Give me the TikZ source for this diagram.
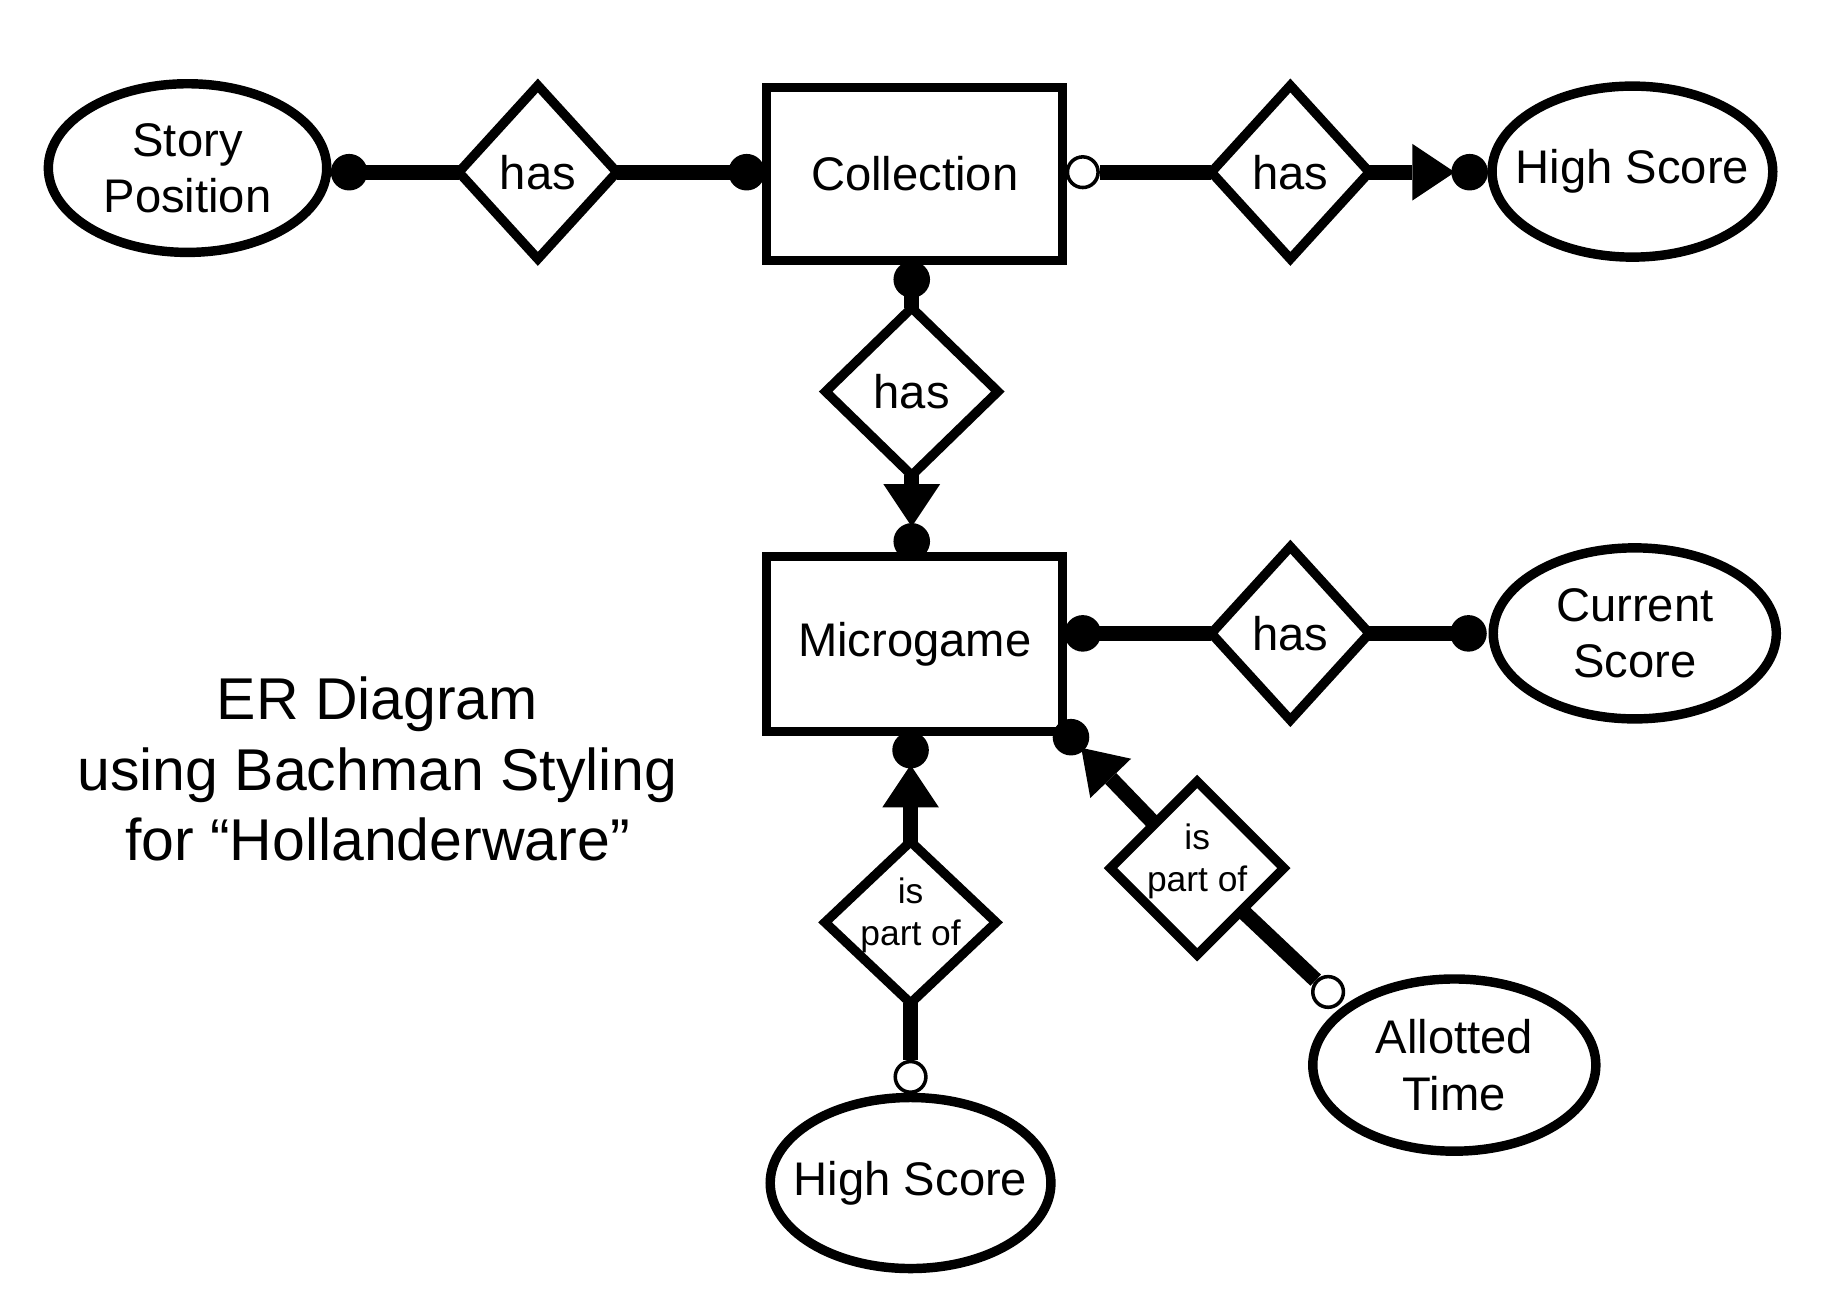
\documentclass[tikz,border=0pt]{standalone}
\usepackage{fontspec}
\setmainfont{Liberation Sans}
\usetikzlibrary{shapes.geometric,arrows.meta}
\begin{document}
\begin{tikzpicture}[x=1pt,y=-1pt,
  lbl/.style={font=\fontsize{40}{48}\selectfont, align=center},
  ent/.style={draw, line width=8pt, rectangle, minimum width=251pt, minimum height=147pt, inner sep=0pt, lbl},
  attr/.style={draw, line width=8pt, ellipse, inner xsep=-22pt, inner ysep=-12pt, minimum width=238pt, minimum height=145pt, lbl},
  rel/.style={draw, line width=8pt, diamond, inner sep=-6pt, outer sep=0pt, fill=white, lbl},
  relsmall/.style={rel, font=\fontsize{30}{36}\selectfont, text depth=18pt},
  fdot/.style={circle, fill=black, inner sep=0pt, minimum size=31pt, outer sep=-3pt},
  odot/.style={circle, draw, line width=3pt, fill=white, inner sep=0pt, minimum size=26pt},
  conn/.style={line width=13pt},
  tipto/.style={-{Triangle[length=36pt,width=48pt,line width=0pt]}}
]
\useasboundingbox (0,0) rectangle (1560,1112.35);

% entities
\node[ent] (col) at (775.5,147.5) {Collection};
\node[ent, minimum height=148pt] (mg) at (775.5,546) {Microgame};

% attributes
\node[attr, minimum width=236pt, minimum height=143pt] (sp) at (159,142.5) {Story\\Position};
\node[attr] (hst) at (1384,145.5) {High Score};
\node[attr, minimum width=240pt] (cs) at (1386,537) {Current\\Score};
\node[attr] (hsb) at (772,1003) {High Score};
\node[attr, minimum width=240pt, minimum height=146pt] (at) at (1233,903) {Allotted\\Time};

% relationships
\node[rel, minimum width=134pt, minimum height=147pt] (has1) at (456,146) {has};
\node[rel, minimum width=134pt, minimum height=147pt] (has2) at (1094,146) {has};
\node[rel, minimum width=146pt, minimum height=142pt] (has3) at (773,332) {has};
\node[rel, minimum width=134pt, minimum height=147pt] (has4) at (1094,537) {has};
\node[relsmall, minimum width=145pt, minimum height=137pt] (ipo1) at (772,782) {is\\part of};
\node[relsmall, minimum width=147pt, minimum height=147pt] (ipo2) at (1015,736) {is\\part of};

% connector end marks
\node[fdot] (dSP) at (296,146) {};
\node[fdot] (dColL) at (633,146) {};
\node[odot] (oColR) at (918,146) {};
\node[fdot] (dHS) at (1246,146) {};
\node[fdot] (dColB) at (773,237) {};
\node[fdot] (dMgT) at (773,459) {};
\node[fdot] (dMgR) at (918,537) {};
\node[fdot] (dCS) at (1245,537) {};
\node[fdot] (dMgB) at (772,636) {};
\node[odot] (oHSb) at (772,913) {};
\node[fdot] (dMgC) at (908,625) {};
\node[odot] (oAT) at (1126,841) {};

% connectors
\draw[conn] (dSP) -- (has1);
\draw[conn] (has1) -- (dColL);
\draw[conn] (oColR) -- (has2);
\draw[conn, tipto] (has2) -- (dHS);
\draw[conn] (dColB) -- (has3);
\draw[conn, tipto] (has3) -- (dMgT);
\draw[conn] (dMgR) -- (has4);
\draw[conn] (has4) -- (dCS);
\draw[conn] (oHSb) -- (ipo1);
\draw[conn, tipto] (ipo1) -- (dMgB);
\draw[conn] (oAT) -- (ipo2);
\draw[conn, tipto] (ipo2) -- (dMgC);

% title
\node[font=\fontsize{50}{60}\selectfont, align=center] (title) at (320,652)
  {ER Diagram\\using Bachman Styling\\for “Hollanderware”};
\end{tikzpicture}
\end{document}
